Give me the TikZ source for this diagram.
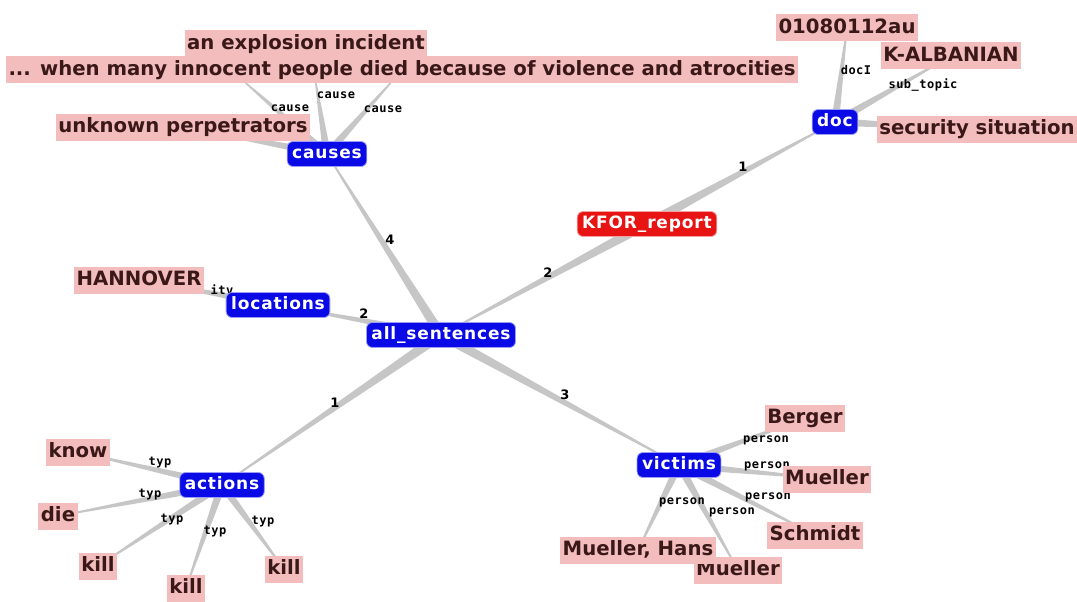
\documentclass[tikz,border=0pt]{standalone}
\usepackage{fontspec}
\setmainfont{DejaVu Sans}
\newfontfamily\bluefont[LetterSpace=5]{DejaVu Sans}
\newfontfamily\lblfont[LetterSpace=4]{DejaVu Sans Mono}
\usetikzlibrary{calc}
\pgfdeclarelayer{wedges}
\pgfdeclarelayer{labels}
\pgfsetlayers{wedges,labels,main}
\definecolor{pinkbox}{HTML}{F4BDBD}
\definecolor{pinktext}{HTML}{3A1818}
\definecolor{bluebox}{HTML}{0A0AE6}
\definecolor{redbox}{HTML}{E81414}
\definecolor{edgegray}{HTML}{C6C6C6}
\newcommand\wedgeedge[3]{\fill[edgegray] ($(#1)!#3!90:(#2)$) -- ($(#1)!#3!-90:(#2)$) -- ($(#2)!0.6pt!90:(#1)$) -- ($(#2)!0.6pt!-90:(#1)$) -- cycle;}
\tikzset{
  pinknode/.style={fill=pinkbox, text=pinktext, font=\bfseries\fontsize{19.7}{19.7}\selectfont,
    inner xsep=2.5pt, inner ysep=3.5pt, text height=15.5pt, text depth=4.5pt},
  bluenode/.style={fill=bluebox, text=white, draw=white!60!bluebox, line width=0.8pt,
    rounded corners=6pt, font=\bluefont\bfseries\fontsize{17}{17}\selectfont,
    inner xsep=5pt, inner ysep=4.5pt, text height=12.5pt, text depth=3.5pt},
  rednode/.style={bluenode, fill=redbox, draw=white!60!redbox},
  elabel/.style={font=\lblfont\bfseries\fontsize{12}{12}\selectfont, text=black, inner sep=0pt},
  nlabel/.style={font=\bfseries\fontsize{13}{13}\selectfont, text=black, inner sep=0pt}
}
\begin{document}
\begin{tikzpicture}[x=1pt,y=-1pt]
\useasboundingbox (0,0) rectangle (1077,602);
% main nodes
\node[bluenode] (as) at (441,335) {all\_sentences};
\node[bluenode] (loc) at (278,305) {locations};
\node[bluenode] (cau) at (327,154) {causes};
\node[rednode] (kfor) at (647,224) {KFOR\_report};
\node[bluenode] (doc) at (835,122) {doc};
\node[bluenode] (act) at (222,485) {actions};
\node[bluenode] (vic) at (679,465) {victims};
% leaves
\node[pinknode] (han) at (139,280) {HANNOVER};
\node[pinknode] (unk) at (183,127) {unknown perpetrators};
\node[pinknode] (when) at (402,70) {... when many innocent people died because of violence and atrocities};
\node[pinknode] (expl) at (306,44) {an explosion incident};
\node[pinknode] (au) at (847,28) {01080112au};
\node[pinknode] (kalb) at (951,56) {K-ALBANIAN};
\node[pinknode] (sec) at (977,129) {security situation};
\node[pinknode] (know) at (78,452) {know};
\node[pinknode] (die) at (58,516) {die};
\node[pinknode] (kill1) at (98,566) {kill};
\node[pinknode] (kill2) at (186,588) {kill};
\node[pinknode] (kill3) at (284,569) {kill};
\node[pinknode] (berg) at (805,418) {Berger};
\node[pinknode] (muel) at (827,479) {Mueller};
\node[pinknode] (schm) at (815,535) {Schmidt};
\node[pinknode] (muel2) at (738,570) {Mueller};
\node[pinknode] (hans) at (638,550) {Mueller, Hans};
\coordinate (c1) at (240,78);
\coordinate (c2) at (315,78);
\coordinate (c3) at (395,78);
% wedges
\begin{pgfonlayer}{wedges}
\wedgeedge{kfor}{as}{5pt}
\wedgeedge{kfor}{doc}{5pt}
\wedgeedge{as}{cau}{5pt}
\wedgeedge{as}{loc}{4pt}
\wedgeedge{as}{act}{5pt}
\wedgeedge{as}{vic}{5pt}
\wedgeedge{loc}{han}{4pt}
\wedgeedge{cau}{unk}{4pt}
\wedgeedge{cau}{c1}{4pt}
\wedgeedge{cau}{c2}{4pt}
\wedgeedge{cau}{c3}{4pt}
\wedgeedge{doc}{au}{4pt}
\wedgeedge{doc}{kalb}{4pt}
\wedgeedge{doc}{sec}{4pt}
\wedgeedge{act}{know}{4pt}
\wedgeedge{act}{die}{4pt}
\wedgeedge{act}{kill1}{4pt}
\wedgeedge{act}{kill2}{4pt}
\wedgeedge{act}{kill3}{4pt}
\wedgeedge{vic}{berg}{4pt}
\wedgeedge{vic}{muel}{4pt}
\wedgeedge{vic}{schm}{4pt}
\wedgeedge{vic}{muel2}{4pt}
\wedgeedge{vic}{hans}{4pt}
\end{pgfonlayer}
% labels
\begin{pgfonlayer}{labels}
\node[nlabel] (n4) at (390,240) {4};
\node[nlabel] (n2a) at (548,273) {2};
\node[nlabel] (n1a) at (743,167) {1};
\node[nlabel] (n2b) at (364,314) {2};
\node[nlabel] (n1b) at (335,403) {1};
\node[nlabel] (n3) at (565,395) {3};
\node[elabel] (l1) at (290,108) {cause};
\node[elabel] (l2) at (336,95) {cause};
\node[elabel] (l3) at (383,109) {cause};
\node[elabel] (l4) at (222,290) {itv};
\node[elabel] (l5) at (856,70) {docI};
\node[elabel] (l6) at (923,85) {sub\_topic};
\node[elabel] (l7) at (160,463) {typ};
\node[elabel] (l8) at (150,495) {typ};
\node[elabel] (l9) at (172,520) {typ};
\node[elabel] (l10) at (215,532) {typ};
\node[elabel] (l11) at (263,522) {typ};
\node[elabel] (l12) at (766,440) {person};
\node[elabel] (l13) at (767,466) {person};
\node[elabel] (l14) at (768,497) {person};
\node[elabel] (l15) at (682,502) {person};
\node[elabel] (l16) at (732,512) {person};
\end{pgfonlayer}
\end{tikzpicture}
\end{document}
